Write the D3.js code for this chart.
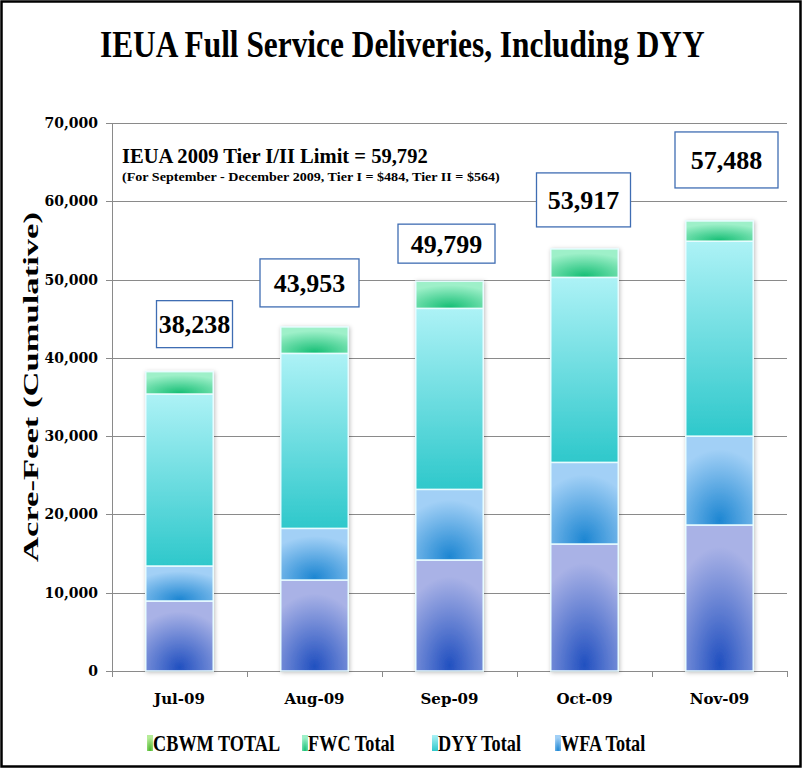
<!DOCTYPE html>
<html>
<head>
<meta charset="utf-8">
<script src="https://cdn.jsdelivr.net/npm/d3@7"></script>
<style>
  body { margin: 0; background: #fff; }
  svg text { font-family: "Liberation Serif", serif; font-weight: bold; fill: #000; }
  .num { font-family: "DejaVu Serif", serif; }
</style>
</head>
<body>
<svg id="chart" width="804" height="771"></svg>
<script>
// months on the x axis
var months = ["Jul-09", "Aug-09", "Sep-09", "Oct-09", "Nov-09"];

// acre-feet per series, stacked bottom to top
var baseTotal = [8940, 11620, 14180, 16220, 18650];   // bottom series, not in the legend
var wfaTotal  = [4470, 6600, 9020, 10430, 11350];
var dyyTotal  = [21970, 22350, 23120, 23630, 24900];
var fwcTotal  = [2858, 3383, 3479, 3637, 2588];
var cbwmTotal = [0, 0, 0, 0, 0];

// cumulative labels in the boxes
var totals = [38238, 43953, 49799, 53917, 57488];

var yTicks = [0, 10000, 20000, 30000, 40000, 50000, 60000, 70000];
var legendNames = ["CBWM TOTAL", "FWC Total", "DYY Total", "WFA Total"];

var w = 804, h = 771;
var svg = d3.select("#chart");

var series = [
  {key: "base", values: baseTotal, grad: "gBase"},
  {key: "wfa", values: wfaTotal, grad: "gWfa"},
  {key: "dyy", values: dyyTotal, grad: "gDyy"},
  {key: "fwc", values: fwcTotal, grad: "gFwc"},
  {key: "cbwm", values: cbwmTotal, grad: "gCbwm"}
];

var rows = months.map(function(m, i){
  var r = {month: m};
  series.forEach(function(s){ r[s.key] = s.values[i]; });
  return r;
});
var stacked = d3.stack().keys(series.map(function(s){ return s.key; }))(rows);

var x = d3.scaleBand().domain(months).range([112, 787]).paddingInner(0.5).paddingOuter(0.25);
var y = d3.scaleLinear().domain([0, 70000]).range([671, 123]);

// squeeze a text horizontally so it spans the given width
function fitWidth(sel, width, anchorX){
  var len = sel.node().getComputedTextLength();
  var k = width / len;
  sel.attr("transform", "translate(" + anchorX + ",0) scale(" + k + ",1) translate(" + (-anchorX) + ",0)");
}

// gradients
var defs = svg.append("defs");
function radial(id, inner, outer){
  var g = defs.append("radialGradient").attr("id", id)
    .attr("cx", "50%").attr("cy", "100%").attr("r", "85%").attr("fx", "50%").attr("fy", "95%");
  g.append("stop").attr("offset", "0%").attr("stop-color", inner);
  g.append("stop").attr("offset", "100%").attr("stop-color", outer);
}
radial("gBase", "#2150c0", "#a9b2e6");
radial("gWfa", "#1d86d2", "#a2d0f6");
radial("gFwc", "#17bf76", "#9ef0c9");
radial("gCbwm", "#4cb52c", "#b6ec98");
var lg = defs.append("linearGradient").attr("id", "gDyy").attr("x1", 0).attr("y1", 0).attr("x2", 0).attr("y2", 1);
lg.append("stop").attr("offset", "0%").attr("stop-color", "#adf2f6");
lg.append("stop").attr("offset", "100%").attr("stop-color", "#2ec8cb");
var sh = defs.append("filter").attr("id", "shadow").attr("x", "-20%").attr("y", "-5%").attr("width", "140%").attr("height", "110%");
sh.append("feDropShadow").attr("dx", 1).attr("dy", 1).attr("stdDeviation", 2).attr("flood-color", "#000").attr("flood-opacity", 0.25);

// frame
svg.append("rect").attr("x", 1.5).attr("y", 1.5).attr("width", 799).attr("height", 765)
  .attr("fill", "#fff").attr("stroke", "#000").attr("stroke-width", 2.5);

// title
var title = svg.append("text").attr("x", 100).attr("y", 57)
  .attr("font-size", 38)
  .text("IEUA Full Service Deliveries, Including DYY");
fitWidth(title, 605, 100);

// gridlines + y ticks
svg.append("g").selectAll("line").data(yTicks).join("line")
  .attr("x1", 106).attr("x2", 787)
  .attr("y1", function(d){ return Math.round(y(d)) + 0.5; })
  .attr("y2", function(d){ return Math.round(y(d)) + 0.5; })
  .attr("stroke", "#8a8a8a").attr("stroke-width", 1);

svg.append("g").selectAll("text").data(yTicks).join("text")
  .attr("class", "num")
  .attr("x", 98).attr("y", function(d){ return y(d) + 5; })
  .attr("text-anchor", "end").attr("font-size", 14)
  .text(d3.format(","));

svg.append("line").attr("x1", 112.5).attr("x2", 112.5).attr("y1", y(70000)).attr("y2", y(0))
  .attr("stroke", "#8a8a8a");

// x axis ticks at band boundaries
var bounds = months.map(function(m){ return x(m) - x.step() * x.paddingInner() / 2; });
bounds.push(787);
svg.append("g").selectAll("line").data(bounds).join("line")
  .attr("x1", function(d){ return Math.round(d) + 0.5; })
  .attr("x2", function(d){ return Math.round(d) + 0.5; })
  .attr("y1", y(0)).attr("y2", y(0) + 6)
  .attr("stroke", "#8a8a8a");

svg.append("g").selectAll("text").data(months).join("text")
  .attr("class", "num")
  .attr("x", function(d){ return x(d) + x.bandwidth() / 2; })
  .attr("y", 704).attr("text-anchor", "middle").attr("font-size", 15)
  .text(function(d){ return d; });

// y axis title
var yTitle = svg.append("text").attr("x", 0).attr("y", 0)
  .attr("text-anchor", "middle").attr("font-size", 21)
  .text("Acre-Feet (Cumulative)");
var yLen = yTitle.node().getComputedTextLength();
yTitle.attr("transform", "translate(38,387) rotate(-90) scale(" + (350 / yLen) + ",1)");

// bars
var barG = svg.append("g").attr("filter", "url(#shadow)");
stacked.forEach(function(layer, li){
  barG.append("g").selectAll("rect").data(layer).join("rect")
    .attr("x", function(d){ return x(d.data.month); })
    .attr("y", function(d){ return y(d[1]); })
    .attr("width", x.bandwidth())
    .attr("height", function(d){ return Math.max(0, y(d[0]) - y(d[1])); })
    .attr("fill", "url(#" + series[li].grad + ")")
    .attr("stroke", "#e8fcff").attr("stroke-width", 1.5);
});

// annotation
var note1 = svg.append("text").attr("x", 122).attr("y", 163).attr("font-size", 21)
  .text("IEUA 2009 Tier I/II Limit = 59,792");
fitWidth(note1, 306, 122);
var note2 = svg.append("text").attr("x", 122).attr("y", 181).attr("font-size", 13.5)
  .text("(For September - December 2009, Tier I = $484, Tier II = $564)");
fitWidth(note2, 378, 122);

// total boxes (hand placed in the original, nudged here)
var boxNudge = [
  {dx: 15, w: 76, h: 47, gap: 24},
  {dx: -5, w: 99, h: 48, gap: 20},
  {dx: -3, w: 97, h: 39, gap: 18},
  {dx: -1, w: 94, h: 54, gap: 22},
  {dx: 7, w: 103, h: 56, gap: 33}
];
var boxes = svg.append("g").selectAll("g").data(totals).join("g")
  .attr("transform", function(d, i){
    var cx = x(months[i]) + x.bandwidth() / 2 + boxNudge[i].dx;
    var by = y(d) - boxNudge[i].gap;
    return "translate(" + cx + "," + by + ")";
  });
boxes.append("rect")
  .attr("x", function(d, i){ return -boxNudge[i].w / 2; })
  .attr("y", function(d, i){ return -boxNudge[i].h; })
  .attr("width", function(d, i){ return boxNudge[i].w; })
  .attr("height", function(d, i){ return boxNudge[i].h; })
  .attr("fill", "#fff").attr("stroke", "#3f6db3").attr("stroke-width", 1.3);
boxes.append("text")
  .attr("y", function(d, i){ return -boxNudge[i].h / 2 + 9; })
  .attr("text-anchor", "middle").attr("font-size", 26)
  .text(d3.format(","));

// legend
var legendGrad = ["gCbwm", "gFwc", "gDyy", "gWfa"];
var legendX = [147, 302, 432, 555];
var leg = svg.append("g").selectAll("g").data(legendNames).join("g")
  .attr("transform", function(d, i){ return "translate(" + legendX[i] + ",735)"; });
leg.append("rect").attr("width", 6).attr("height", 16)
  .attr("fill", function(d, i){ return "url(#" + legendGrad[i] + ")"; });
leg.append("text").attr("x", 8).attr("y", 16).attr("font-size", 24)
  .attr("transform", "scale(0.76,1)")
  .text(function(d){ return d; });
</script>
</body>
</html>
